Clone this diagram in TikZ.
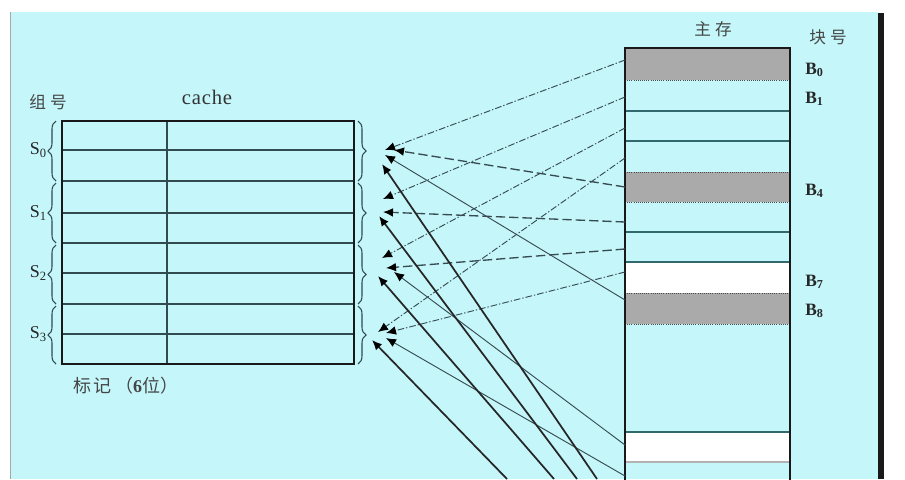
\documentclass[tikz,border=0pt]{standalone}
\usepackage{fontspec}
\setmainfont{Liberation Serif}
\newfontfamily\cjk{Noto Sans CJK SC}
\usetikzlibrary{arrows.meta,decorations.pathreplacing}
\definecolor{bgc}{RGB}{196,246,250}
\definecolor{lc}{RGB}{55,75,80}
\definecolor{rowc}{RGB}{50,75,80}
\definecolor{hatchc}{RGB}{170,170,170}
\definecolor{memline}{RGB}{50,105,110}
\definecolor{txtc}{RGB}{70,70,70}
\begin{document}
\begin{tikzpicture}[x=0.75pt,y=-0.75pt,
  tip/.style={-{Latex[length=7.5pt,width=6.5pt,color=black]}},
  dashthin/.style={tip,draw=lc,line width=0.7pt,dash pattern=on 5pt off 1.5pt on 1pt off 1.5pt},
  dashmid/.style={tip,draw=lc,line width=1pt,dash pattern=on 7pt off 3pt},
  solthin/.style={tip,draw=lc,line width=0.7pt},
  solthick/.style={tip,draw=black!85,line width=1.3pt},
  rowln/.style={draw=rowc,line width=0.9pt},
  brc/.style={draw=rowc,line width=0.8pt,decorate,decoration={brace,amplitude=6pt}},
  lbl/.style={font=\fontsize{13}{13}\selectfont\bfseries,text=black!85,inner sep=0pt},
  cjklbl/.style={font=\cjk\fontsize{12.5}{12.5}\selectfont,text=txtc,inner sep=0pt}]
\useasboundingbox (0,0) rectangle (905,479);
\fill[white] (0,0) rectangle (905,479);
\fill[bgc] (10,12) rectangle (878,479);
\draw[gray!70,line width=0.6pt] (10,12) -- (10,479);
\fill[black!90] (878,13) rectangle (884,479);

% ---------------- cache ----------------
\foreach \y in {150,181,213,243,273,304,334} \draw[rowln] (62,\y) -- (354,\y);
\draw[rowc,line width=1pt] (167,121) -- (167,364);
\draw[black!90,line width=2pt] (62,121) rectangle (354,364);
\node[font=\fontsize{15.5}{15.5}\selectfont,text=black!80] (cachel) at (207,97) {c\hspace{0.6pt}a\hspace{0.6pt}c\hspace{0.6pt}h\hspace{0.6pt}e};
\node[cjklbl] (zuhao) at (48,102) {组\hspace{3pt}号};
\node[cjklbl,font=\cjk\fontsize{13.5}{13.5}\selectfont] (biaoji) at (126,386) {标\hspace{1pt}记\hspace{3pt}（{\rmfamily\bfseries 6}位）};

% left braces and set labels
\foreach \a/\b/\m/\n in {121/181/150/0,183/243/213/1,245/304/273/2,306/364/334/3}{
  \draw[brc] (56,\b) -- (56,\a);
  \draw[brc] (358,\a) -- (358,\b);
  \node[lbl,font=\fontsize{13.5}{13.5}\selectfont,anchor=east] (s\n) at (47,\m) {S\textsubscript{\n}};
}

% ---------------- main memory ----------------
\fill[hatchc] (625,48) rectangle (790,80);
\fill[hatchc] (625,172) rectangle (790,202);
\fill[white] (625,262) rectangle (790,293);
\fill[hatchc] (625,293) rectangle (790,324);
\fill[white] (625,432) rectangle (790,462);
\foreach \y in {80,172,202,293,324} \draw[black!70,line width=0.6pt,densely dotted] (625,\y) -- (790,\y);
\foreach \y in {111,141,232,262,432} \draw[memline,line width=1.2pt] (625,\y) -- (790,\y);
\draw[gray!60,line width=1.2pt] (625,462) -- (790,462);
\draw[black!90,line width=2.2pt] (625,485) -- (625,48) -- (790,48) -- (790,485);
\node[cjklbl] (zhucun) at (713,29) {主\hspace{3pt}存};
\node[cjklbl] (kuaihao) at (828,37) {块\hspace{3pt}号};
\node[lbl,anchor=west] (b0) at (805,70) {B\textsubscript{0}};
\node[lbl,anchor=west] (b1) at (805,99) {B\textsubscript{1}};
\node[lbl,anchor=west] (b4) at (805,191) {B\textsubscript{4}};
\node[lbl,anchor=west] (b7) at (805,282) {B\textsubscript{7}};
\node[lbl,anchor=west] (b8) at (805,311) {B\textsubscript{8}};

% ---------------- connector end points ----------------
\coordinate (m0) at (625,60);
\coordinate (m1) at (625,97);
\coordinate (m2) at (625,128);
\coordinate (m3) at (625,158);
\coordinate (m4) at (625,187);
\coordinate (m5) at (625,222);
\coordinate (m6) at (625,249);
\coordinate (m7) at (625,272);
\coordinate (m8) at (625,300);
\coordinate (mA) at (625,445);
\coordinate (mB) at (625,476);
\coordinate (d0) at (597,479);
\coordinate (d1) at (577,479);
\coordinate (d2) at (554,479);
\coordinate (d3) at (507,479);
\coordinate (t0a) at (385,150);
\coordinate (t0b) at (394,150);
\coordinate (t0c) at (385,155);
\coordinate (t0d) at (382,164);
\coordinate (t1a) at (383,199);
\coordinate (t1b) at (383,212);
\coordinate (t1d) at (379,216);
\coordinate (t2a) at (382,258);
\coordinate (t2b) at (386,268);
\coordinate (t2c) at (394,272);
\coordinate (t2d) at (378,276);
\coordinate (t3a) at (378,332);
\coordinate (t3b) at (386,333);
\coordinate (t3c) at (386,338);
\coordinate (t3d) at (372,340);

% ---------------- connectors ----------------
\begin{scope}
\clip (10,12) rectangle (878,479);
\draw[dashthin] (m0) -- (t0a);
\draw[dashthin] (m1) -- (t1a);
\draw[dashthin] (m2) -- (t2a);
\draw[dashthin] (m3) -- (t3a);
\draw[dashmid] (m4) -- (t0b);
\draw[dashmid] (m5) -- (t1b);
\draw[dashmid] (m6) -- (t2b);
\draw[dashthin] (m7) -- (t3b);
\draw[solthin] (m8) -- (t0c);
\draw[solthin] (mA) -- (t2c);
\draw[solthin] (mB) -- (t3c);
\draw[solthick] (d0) -- (t0d);
\draw[solthick] (d1) -- (t1d);
\draw[solthick] (d2) -- (t2d);
\draw[solthick] (d3) -- (t3d);
\end{scope}
\end{tikzpicture}
\end{document}
